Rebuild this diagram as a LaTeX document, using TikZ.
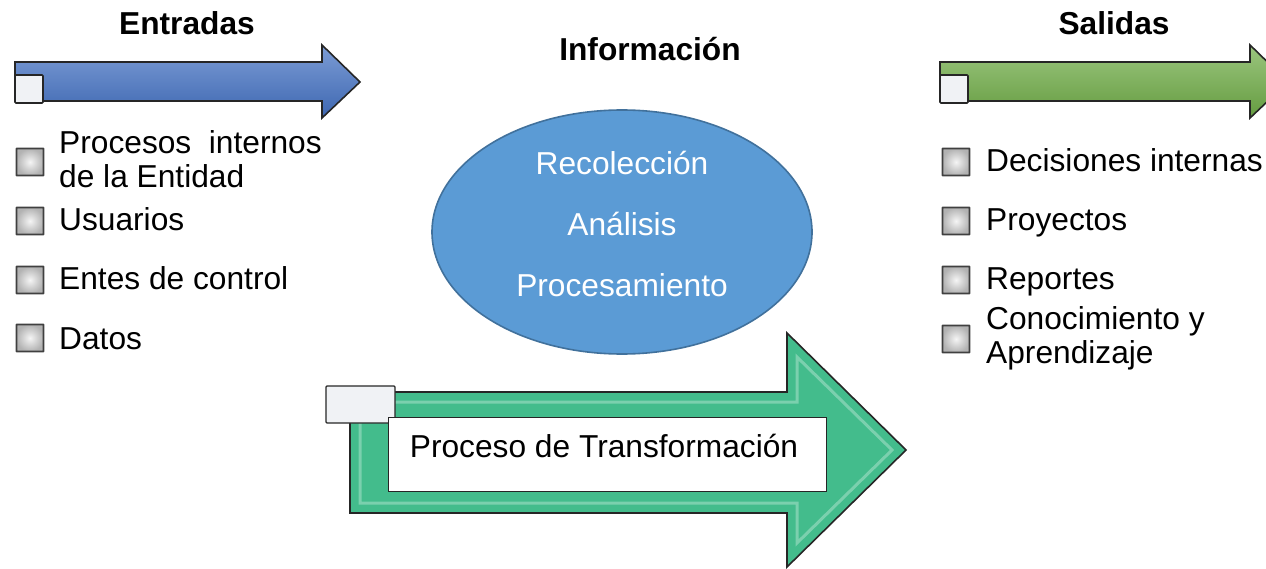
\documentclass[tikz,border=0pt]{standalone}
\usepackage{fontspec}
\setmainfont{Liberation Sans}
\usetikzlibrary{shapes.geometric}
\definecolor{blueA}{RGB}{68,114,196}
\definecolor{greenA}{RGB}{112,173,71}
\definecolor{tealA}{RGB}{67,188,140}
\definecolor{ellFill}{RGB}{91,155,213}
\definecolor{ellLine}{RGB}{65,113,156}
\definecolor{tabFill}{RGB}{240,242,245}
\tikzset{
  arrowshape/.style={draw=black!85, line width=1.6pt, line join=miter},
  bevel/.style={draw=white, line width=3pt, opacity=0.3, line join=miter},
  tabbox/.style={draw=black!85, line width=1.6pt, fill=tabFill, rounded corners=1pt},
  chk/.style={draw=black!75, line width=1.8pt, inner color=gray!8, outer color=gray!60,
              minimum size=27pt, inner sep=0pt, rounded corners=0.5pt},
  itemtxt/.style={anchor=base west, inner sep=0pt, font=\fontsize{31.7}{34}\selectfont, align=left},
  ttl/.style={anchor=base, inner sep=0pt, font=\fontsize{31.7}{34}\selectfont\bfseries},
  elltxt/.style={anchor=base, inner sep=0pt, text=white, font=\fontsize{31.7}{34}\selectfont},
}
\begin{document}
\begin{tikzpicture}[x=1pt,y=-1pt]
\useasboundingbox (0,0) rectangle (1266,569);
\clip (0,0) rectangle (1266,569);

% titles
\node[ttl] (tEnt) at (187,35) {Entradas};
\node[ttl] (tInf) at (650,61) {Información};
\node[ttl] (tSal) at (1114,35) {Salidas};

% blue input arrow
\path[arrowshape, top color=blueA!70!white, middle color=blueA, bottom color=blueA!90!black]
  (15,62) -- (322,62) -- (322,45) -- (360,82) -- (322,118) -- (322,101) -- (15,101) -- cycle;
\node[tabbox, minimum width=28pt, minimum height=28pt, inner sep=0pt] (sqB) at (29,89) {};

% green output arrow
\path[arrowshape, top color=greenA!70!white, middle color=greenA, bottom color=greenA!90!black]
  (940,62) -- (1250,62) -- (1250,45) -- (1288,82) -- (1250,118) -- (1250,101) -- (940,101) -- cycle;
\node[tabbox, minimum width=28pt, minimum height=28pt, inner sep=0pt] (sqG) at (954,89) {};

% ellipse
\node[ellipse, draw=ellLine, line width=1.6pt, fill=ellFill,
      minimum width=380pt, minimum height=244pt] (ell) at (622,232) {};
\node[elltxt] (e1) at (622,175) {Recolección};
\node[elltxt] (e2) at (622,236) {Análisis};
\node[elltxt] (e3) at (622,297) {Procesamiento};

% big transformation arrow
\path[arrowshape, fill=tealA]
  (350,392) -- (787,392) -- (787,333) -- (906,450) -- (787,567) -- (787,513) -- (350,513) -- cycle;
\path[bevel]
  (360,402) -- (797,402) -- (797,357) -- (892,450) -- (797,543) -- (797,503) -- (360,503) -- cycle;
\node[tabbox, line width=1.2pt, minimum width=69pt, minimum height=37pt, inner sep=0pt] (sqT) at (360.5,404.5) {};
\node[draw=black!85, line width=1pt, fill=white, minimum width=438pt, minimum height=74pt, inner sep=0pt] (tbox) at (607,454) {};
\node[anchor=base, inner sep=0pt, font=\fontsize{31.7}{34}\selectfont] (tlab) at (604,457) {Proceso de Transformación};

% left list
\node[chk] (c1) at (30,162) {};
\node[chk] (c2) at (30,221) {};
\node[chk] (c3) at (30,280) {};
\node[chk] (c4) at (30,338) {};
\node[itemtxt] (l1) at (59,154) {Procesos\ \ internos};
\node[itemtxt] (l1b) at (59,188) {de la Entidad};
\node[itemtxt] (l2) at (59,231) {Usuarios};
\node[itemtxt] (l3) at (59,290) {Entes de control};
\node[itemtxt] (l4) at (59,349) {Datos};

% right list
\node[chk] (d1) at (956,162) {};
\node[chk] (d2) at (956,221) {};
\node[chk] (d3) at (956,280) {};
\node[chk] (d4) at (956,339) {};
\node[itemtxt] (r1) at (986,172) {Decisiones internas};
\node[itemtxt] (r2) at (986,231) {Proyectos};
\node[itemtxt] (r3) at (986,290) {Reportes};
\node[itemtxt] (r4) at (986,330) {Conocimiento y};
\node[itemtxt] (r4b) at (986,363) {Aprendizaje};
\end{tikzpicture}
\end{document}
